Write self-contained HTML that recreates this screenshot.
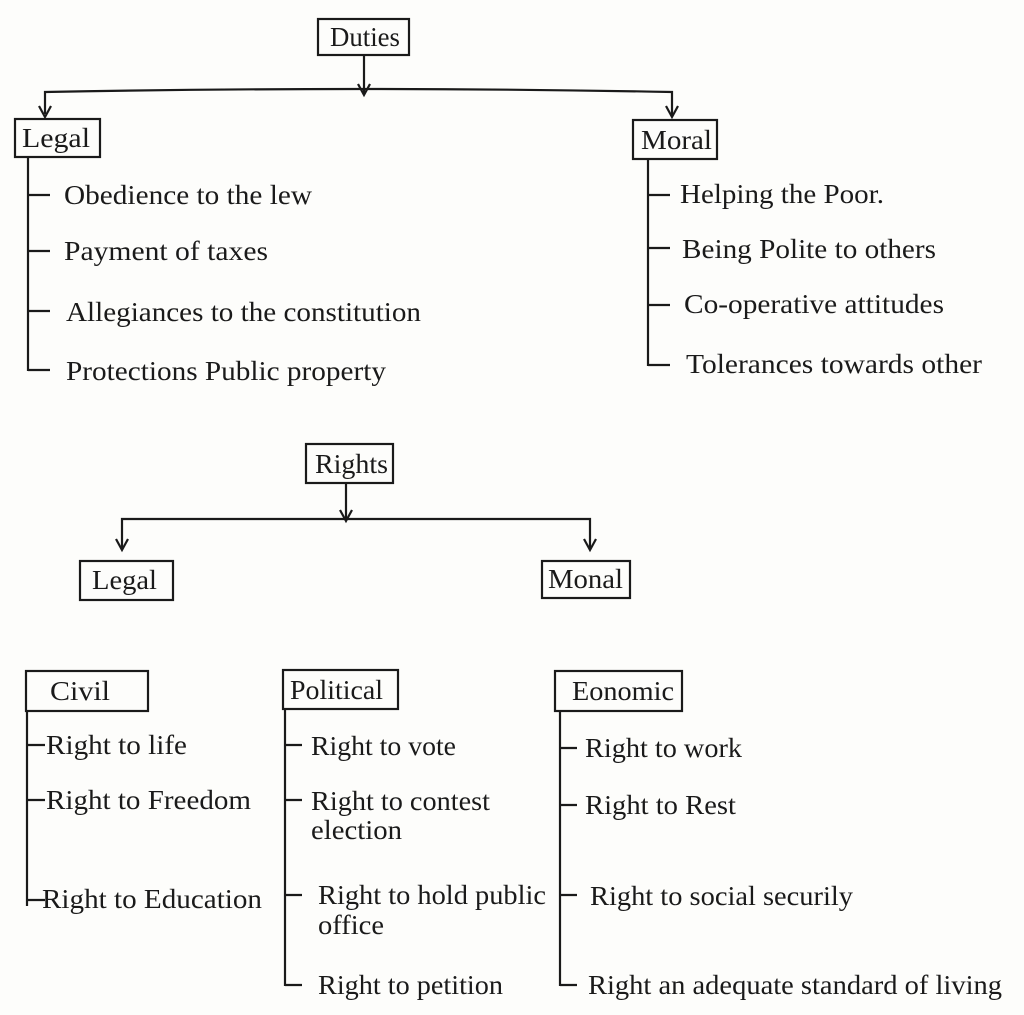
<!DOCTYPE html>
<html><head><meta charset="utf-8"><style>
html,body{margin:0;padding:0;background:#fdfdfb;}
svg{display:block}
text{font-family:"Liberation Serif",serif;font-size:27px;fill:#1a1a1a}
</style></head><body>
<svg width="1024" height="1015" viewBox="0 0 1024 1015" xmlns="http://www.w3.org/2000/svg">
<g stroke="#1a1a1a" stroke-width="2.2" fill="none">
<rect x="318" y="19" width="91" height="36"/>
<line x1="364" y1="55" x2="364" y2="94"/>
<path d="M45 114 L45 92 Q360 86 672 92 L672 116"/>
<path d="M358 84 L364 95 L370 84 M39 106 L45 117 L51 106 M666 106 L672 117 L678 106"/>
<rect x="15" y="119" width="85" height="38"/>
<rect x="633" y="120" width="84" height="39"/>
<line x1="28" y1="157" x2="28" y2="371"/>
<line x1="28" y1="195" x2="50" y2="195"/><line x1="28" y1="251" x2="50" y2="251"/>
<line x1="28" y1="311" x2="50" y2="311"/><line x1="28" y1="370" x2="50" y2="370"/>
<line x1="648" y1="159" x2="648" y2="366"/>
<line x1="648" y1="195" x2="670" y2="195"/><line x1="648" y1="248" x2="670" y2="248"/>
<line x1="648" y1="305" x2="670" y2="305"/><line x1="648" y1="365" x2="670" y2="365"/>
<rect x="306" y="444" width="87" height="39"/>
<line x1="346" y1="483" x2="346" y2="520"/>
<path d="M122 548 L122 519 L590 519 L590 548"/>
<path d="M340 510 L346 521 L352 510 M116 539 L122 550 L128 539 M584 539 L590 550 L596 539"/>
<rect x="80" y="561" width="93" height="39"/>
<rect x="542" y="561" width="88" height="37"/>
<rect x="26" y="671" width="122" height="40"/>
<rect x="283" y="670" width="115" height="39"/>
<rect x="555" y="671" width="127" height="40"/>
<line x1="27" y1="711" x2="27" y2="906"/>
<line x1="27" y1="745" x2="45" y2="745"/><line x1="27" y1="800" x2="45" y2="800"/><line x1="27" y1="900" x2="45" y2="900"/>
<line x1="285" y1="709" x2="285" y2="986"/>
<line x1="285" y1="745" x2="302" y2="745"/><line x1="285" y1="800" x2="302" y2="800"/>
<line x1="285" y1="895" x2="302" y2="895"/><line x1="285" y1="985" x2="302" y2="985"/>
<line x1="560" y1="711" x2="560" y2="986"/>
<line x1="560" y1="748" x2="577" y2="748"/><line x1="560" y1="805" x2="577" y2="805"/>
<line x1="560" y1="895" x2="577" y2="895"/><line x1="560" y1="985" x2="577" y2="985"/>
</g>
<g lengthAdjust="spacingAndGlyphs">
<text x="330" y="46" textLength="70" lengthAdjust="spacingAndGlyphs">Duties</text>
<text x="22" y="147" textLength="68" lengthAdjust="spacingAndGlyphs">Legal</text>
<text x="641" y="149" textLength="71" lengthAdjust="spacingAndGlyphs">Moral</text>
<text x="64" y="204" textLength="248" lengthAdjust="spacingAndGlyphs">Obedience to the lew</text>
<text x="64" y="260" textLength="204" lengthAdjust="spacingAndGlyphs">Payment of taxes</text>
<text x="66" y="321" textLength="355" lengthAdjust="spacingAndGlyphs">Allegiances to the constitution</text>
<text x="66" y="380" textLength="320" lengthAdjust="spacingAndGlyphs">Protections Public property</text>
<text x="680" y="203" textLength="204" lengthAdjust="spacingAndGlyphs">Helping the Poor.</text>
<text x="682" y="258" textLength="254" lengthAdjust="spacingAndGlyphs">Being Polite to others</text>
<text x="684" y="313" textLength="260" lengthAdjust="spacingAndGlyphs">Co-operative attitudes</text>
<text x="686" y="373" textLength="296" lengthAdjust="spacingAndGlyphs">Tolerances towards other</text>
<text x="315" y="473" textLength="73" lengthAdjust="spacingAndGlyphs">Rights</text>
<text x="92" y="589" textLength="65" lengthAdjust="spacingAndGlyphs">Legal</text>
<text x="548" y="588" textLength="75" lengthAdjust="spacingAndGlyphs">Monal</text>
<text x="50" y="700" textLength="60" lengthAdjust="spacingAndGlyphs">Civil</text>
<text x="290" y="699" textLength="93" lengthAdjust="spacingAndGlyphs">Political</text>
<text x="572" y="700" textLength="102" lengthAdjust="spacingAndGlyphs">Eonomic</text>
<text x="46" y="754" textLength="141" lengthAdjust="spacingAndGlyphs">Right to life</text>
<text x="46" y="809" textLength="205" lengthAdjust="spacingAndGlyphs">Right to Freedom</text>
<text x="42" y="908" textLength="220" lengthAdjust="spacingAndGlyphs">Right to Education</text>
<text x="311" y="755" textLength="145" lengthAdjust="spacingAndGlyphs">Right to vote</text>
<text x="311" y="810" textLength="179" lengthAdjust="spacingAndGlyphs">Right to contest</text>
<text x="311" y="839" textLength="91" lengthAdjust="spacingAndGlyphs">election</text>
<text x="318" y="904" textLength="228" lengthAdjust="spacingAndGlyphs">Right to hold public</text>
<text x="318" y="934" textLength="66" lengthAdjust="spacingAndGlyphs">office</text>
<text x="318" y="994" textLength="185" lengthAdjust="spacingAndGlyphs">Right to petition</text>
<text x="585" y="757" textLength="157" lengthAdjust="spacingAndGlyphs">Right to work</text>
<text x="585" y="814" textLength="151" lengthAdjust="spacingAndGlyphs">Right to Rest</text>
<text x="590" y="905" textLength="263" lengthAdjust="spacingAndGlyphs">Right to social securily</text>
<text x="588" y="994" textLength="414" lengthAdjust="spacingAndGlyphs">Right an adequate standard of living</text>
</g>
</svg>
</body></html>
